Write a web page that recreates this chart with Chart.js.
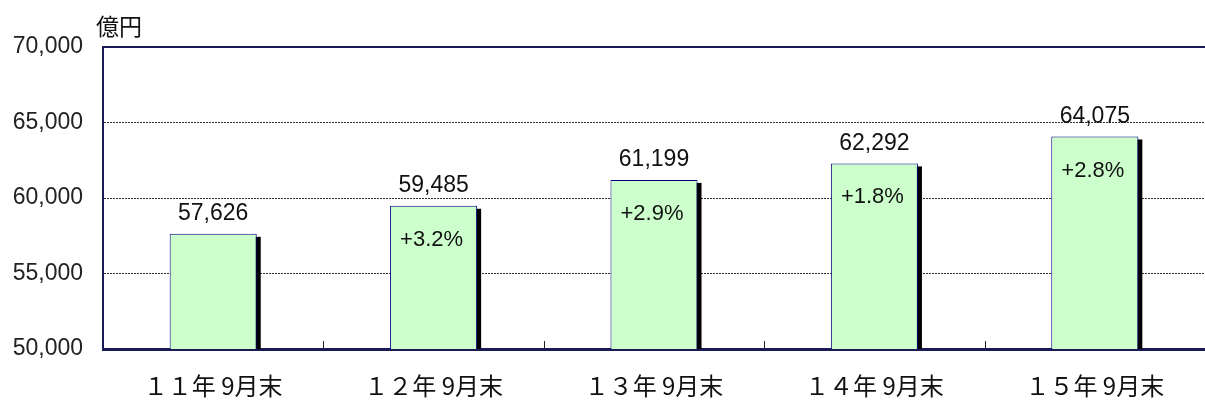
<!DOCTYPE html>
<html>
<head>
<meta charset="utf-8">
<script src="https://cdn.jsdelivr.net/npm/chart.js@4"></script>
<style>
  html, body { margin: 0; padding: 0; background: #fff; }
  #wrap { width: 1205px; height: 402px; }
</style>
</head>
<body>
<div id="wrap"><canvas id="chart" width="1205" height="402"></canvas></div>
<script>
// data
const categories = ["１１年 9月末", "１２年 9月末", "１３年 9月末", "１４年 9月末", "１５年 9月末"];
const amounts = [57626, 59485, 61199, 62292, 64075];
const growth = [null, "+3.2%", "+2.9%", "+1.8%", "+2.8%"];
const yTicks = [50000, 55000, 60000, 65000, 70000];
const unitLabel = "億円";

const navy = "#1a1a55";
const numFont = "'Liberation Sans', Arial, sans-serif";
const cjkFont = "'Noto Sans CJK JP', 'Noto Sans', sans-serif";

// black drop shadow behind each bar
const shadowPlugin = {
    id: "shadow",
    beforeDatasetsDraw(chart) {
        const ctx = chart.ctx;
        const area = chart.chartArea;
        const meta = chart.getDatasetMeta(0);
        ctx.save();
        ctx.fillStyle = "#000";
        meta.data.forEach((bar) => {
            const w = bar.width;
            const bottom = Math.min(bar.base, area.bottom);
            ctx.fillRect(bar.x - w / 2 + 4, bar.y + 3, w, bottom - bar.y - 3);
        });
        ctx.restore();
    }
};

// value labels, growth labels, unit text, top line, category ticks
const labelPlugin = {
    id: "labels",
    afterDatasetsDraw(chart) {
        const ctx = chart.ctx;
        const area = chart.chartArea;
        const meta = chart.getDatasetMeta(0);
        const xScale = chart.scales.x;
        ctx.save();

        // solid top line
        ctx.strokeStyle = navy;
        ctx.lineWidth = 2;
        ctx.beginPath();
        ctx.moveTo(area.left, area.top);
        ctx.lineTo(area.right, area.top);
        ctx.stroke();

        // small ticks between categories
        ctx.strokeStyle = "#222";
        ctx.lineWidth = 1;
        const half = (xScale.getPixelForValue(1) - xScale.getPixelForValue(0)) / 2;
        for (let i = 1; i < categories.length; i++) {
            const x = Math.round(xScale.getPixelForValue(i) - half) + 0.5;
            ctx.beginPath();
            ctx.moveTo(x, area.bottom);
            ctx.lineTo(x, area.bottom - 8);
            ctx.stroke();
        }

        ctx.fillStyle = "#111";
        ctx.textAlign = "center";
        ctx.textBaseline = "middle";
        meta.data.forEach((bar, i) => {
            ctx.font = "23px " + numFont;
            ctx.fillText(amounts[i].toLocaleString("en-US"), bar.x, bar.y - 20);
            if (growth[i]) {
                ctx.font = "22px " + numFont;
                ctx.fillText(growth[i], bar.x - 2, bar.y + 34);
            }
        });

        ctx.textAlign = "left";
        ctx.font = "23px " + cjkFont;
        ctx.fillText(unitLabel, 96, 26);
        ctx.restore();
    }
};

new Chart(document.getElementById("chart"), {
    type: "bar",
    data: {
        labels: categories,
        datasets: [{
            data: amounts,
            backgroundColor: "#ccffcc",
            borderColor: "#000080",
            borderWidth: 1,
            borderSkipped: false,
            categoryPercentage: 1,
            barPercentage: 0.395
        }]
    },
    options: {
        responsive: false,
        animation: false,
        layout: { padding: { top: 47, right: 0, left: 0, bottom: 0 } },
        plugins: {
            legend: { display: false },
            tooltip: { enabled: false }
        },
        scales: {
            x: {
                grid: { display: false, drawTicks: false },
                border: { color: navy, width: 3 },
                ticks: {
                    color: "#111",
                    padding: 22,
                    font: { family: cjkFont, size: 24 }
                },
                afterFit: (scale) => { scale.height = 53; }
            },
            y: {
                min: 50000,
                max: 70000,
                afterBuildTicks: (scale) => {
                    scale.ticks = yTicks.map((v) => ({ value: v }));
                },
                grid: {
                    drawTicks: false,
                    color: (c) => (c.tick && (c.tick.value === 70000 || c.tick.value === 50000)) ? "rgba(0,0,0,0)" : "#333",
                    lineWidth: 1
                },
                border: { color: navy, width: 2, dash: [2, 1] },
                ticks: {
                    color: "#222",
                    padding: 20,
                    font: { family: numFont, size: 23 },
                    callback: (v) => v.toLocaleString("en-US")
                },
                afterFit: (scale) => { scale.width = 103; }
            }
        }
    },
    plugins: [shadowPlugin, labelPlugin]
});
</script>
</body>
</html>
